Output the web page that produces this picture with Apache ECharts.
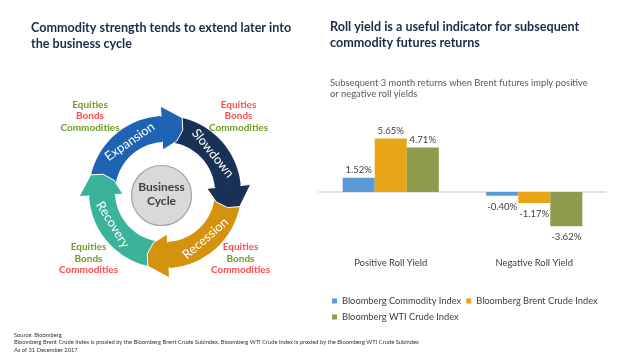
<!DOCTYPE html>
<html><head><meta charset="utf-8">
<script src="https://cdn.jsdelivr.net/npm/echarts@6/dist/echarts.min.js"></script>
<style>html,body{margin:0;padding:0;background:#fff}#c{width:628px;height:356px}</style>
</head><body><div id="c"></div>
<script>
// ---- data ----
const categories = ['Positive Roll Yield', 'Negative Roll Yield'];
const seriesNames = ['Bloomberg Commodity Index', 'Bloomberg Brent Crude Index', 'Bloomberg WTI Crude Index'];
const commodityIndex = [1.52, -0.40];
const brentIndex = [5.65, -1.17];
const wtiIndex = [4.71, -3.62];
const cyclePhases = ['Expansion', 'Slowdown', 'Recession', 'Recovery'];
const cycleTips = [16, 104, 196, 286];      // arrow tip angle (deg, clockwise from top)
const cycleTextAngles = [-35, 51, 139, 238];
const quadrantLines = ['Equities', 'Bonds', 'Commodities'];
const quadrantColors = [
  ['g', 'r', 'g'],  // top-left
  ['r', 'r', 'g'],  // top-right
  ['g', 'g', 'r'],  // bottom-left
  ['r', 'g', 'r']   // bottom-right
];

// ---- styles ----
const FONT = 'Lato, "Noto Sans", sans-serif';
const barColors = ['#5B9BD5', '#E8A517', '#8F9A4C'];
const arrowColors = ['#1F63B5', '#1A3157', '#D4930F', '#3AB39A'];
const GREEN = '#6E9D25', RED = '#FF4B4B';

const chart = echarts.init(document.getElementById('c'), null, {renderer: 'canvas'});

// ---- cycle diagram graphics ----
const cx = 165, cy = 192;
const rIn = 50, rOut = 76, hIn = 42, hOut = 86, rTip = 64.5, headLen = 19;
function pt(phiDeg, r) {
  const p = phiDeg * Math.PI / 180;
  return [cx + r * Math.sin(p), cy - r * Math.cos(p)];
}
function arcPts(a0, a1, r) {
  const pts = [], n = 24;
  for (let i = 0; i <= n; i++) pts.push(pt(a0 + (a1 - a0) * i / n, r));
  return pts;
}
const graphics = [];
for (let k = 0; k < 4; k++) {
  const tip = cycleTips[k];
  const prevTip = cycleTips[(k + 3) % 4] - (k === 0 ? 360 : 0);
  const a0 = prevTip - 12, a1 = tip - headLen + 1;
  const pts = arcPts(a0, a1, rOut).concat(arcPts(a1, a0, rIn));
  graphics.push({type: 'polygon', z: 1, shape: {points: pts}, style: {fill: arrowColors[k]}});
}
for (let k = 0; k < 4; k++) {
  const tip = cycleTips[k], a1 = tip - headLen;
  const pts = [pt(a1, hOut), pt(tip - 3, (hOut + rTip) / 2 + 1), pt(tip, rTip), pt(tip - 3, (hIn + rTip) / 2 - 1), pt(a1, hIn)];
  graphics.push({type: 'polygon', z: 2, shape: {points: pts}, style: {fill: arrowColors[k], stroke: '#fff', lineWidth: 1}});
  const patch = arcPts(a1 - 3, a1 + 1, rOut - 0.5).concat(arcPts(a1 + 1, a1 - 3, rIn + 0.5));
  graphics.push({type: 'polygon', z: 3, shape: {points: patch}, style: {fill: arrowColors[k]}});
}
for (let k = 0; k < 4; k++) {
  const phi = cycleTextAngles[k];
  const p = pt(phi, 61.5);
  const top = Math.cos(phi * Math.PI / 180) > 0;
  const rotDeg = top ? -phi : 180 - phi;
  graphics.push({type: 'text', z: 4, x: p[0], y: p[1], rotation: rotDeg * Math.PI / 180,
    style: {text: cyclePhases[k], fill: '#fff', font: '12.8px ' + FONT, textAlign: 'center', textVerticalAlign: 'middle'}});
}
graphics.push({type: 'circle', z: 4, shape: {cx: 161.5, cy: 195.5, r: 30}, style: {fill: '#D9D9D9', stroke: '#A3A3A3', lineWidth: 1.2}});
graphics.push({type: 'text', z: 5, x: 161.5, y: 187, style: {text: 'Business', fill: '#404040', font: 'bold 12px ' + FONT, textAlign: 'center', textVerticalAlign: 'middle'}});
graphics.push({type: 'text', z: 5, x: 161.5, y: 201, style: {text: 'Cycle', fill: '#404040', font: 'bold 12px ' + FONT, textAlign: 'center', textVerticalAlign: 'middle'}});
const quadPos = [[90, 104.5], [238.5, 104.5], [88.5, 247], [240.5, 247]];
for (let q = 0; q < 4; q++) {
  for (let i = 0; i < 3; i++) {
    graphics.push({type: 'text', z: 5, x: quadPos[q][0], y: quadPos[q][1] + i * 11.5,
      style: {text: quadrantLines[i], fill: quadrantColors[q][i] === 'g' ? GREEN : RED,
        font: 'bold 10px ' + FONT, textAlign: 'center', textVerticalAlign: 'middle'}});
  }
}

// ---- bar series ----
function mkData(arr) {
  return arr.map(v => ({value: v, label: {position: v >= 0 ? 'top' : 'bottom', distance: v >= 0 ? 3 : 6}}));
}
const valueSets = [commodityIndex, brentIndex, wtiIndex];
const series = seriesNames.map((name, i) => ({
  name, type: 'bar', data: mkData(valueSets[i]),
  barGap: '0%', barCategoryGap: '33%',
  itemStyle: {color: barColors[i]},
  label: {show: true, color: '#404040', fontFamily: FONT, fontSize: 9.5,
    formatter: p => p.value.toFixed(2) + '%'}
}));

chart.setOption({
  animation: false,
  backgroundColor: '#fff',
  title: [
    {text: 'Commodity strength tends to extend later into\nthe business cycle', left: 31, top: 19.5, padding: 0,
      textStyle: {color: '#1C2A48', fontFamily: FONT, fontWeight: 'bold', fontSize: 12.6, lineHeight: 16}},
    {text: 'Roll yield is a useful indicator for subsequent\ncommodity futures returns', left: 330, top: 19.5, padding: 0,
      textStyle: {color: '#1C2A48', fontFamily: FONT, fontWeight: 'bold', fontSize: 12.6, lineHeight: 15.5}},
    {text: 'Subsequent 3 month returns when Brent futures imply positive\nor negative roll yields', left: 330, top: 77, padding: 0,
      textStyle: {color: '#595959', fontFamily: FONT, fontWeight: 'normal', fontSize: 9.35, lineHeight: 11.6}},
    {text: 'Source: Bloomberg\nBloomberg Brent Crude Index is proxied by the Bloomberg Brent Crude Subindex, Bloomberg WTI Crude Index is proxied by the Bloomberg WTI Crude Subindex\nAs of 31 December 2017',
      left: 14, top: 331, padding: 0,
      textStyle: {color: '#333', fontFamily: FONT, fontWeight: 'normal', fontSize: 5.75, lineHeight: 7.7}}
  ],
  legend: {
    data: seriesNames, left: 332, top: 295.5, width: 272, padding: 0,
    icon: 'rect', itemWidth: 5, itemHeight: 5, itemGap: 5,
    textStyle: {color: '#404040', fontFamily: FONT, fontSize: 9.3, lineHeight: 11}
  },
  grid: {left: 319, right: 22, top: 135.3, height: 94.5, containLabel: false},
  xAxis: {
    type: 'category', data: categories,
    axisLine: {onZero: true, lineStyle: {color: '#D9D9D9', width: 1.5}},
    axisTick: {show: false},
    axisLabel: {margin: 28.5, color: '#404040', fontFamily: FONT, fontSize: 9.4}
  },
  yAxis: {type: 'value', min: -4, max: 6, show: false, splitLine: {show: false}},
  series,
  graphic: graphics
});
</script></body></html>
